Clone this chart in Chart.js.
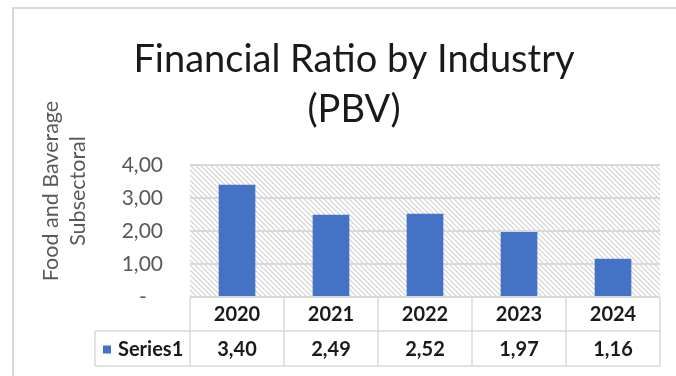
<!DOCTYPE html>
<html>
    <head>
        <meta charset="utf-8">
        <title>Financial Ratio by Industry (PBV)</title>
        <script src="https://cdn.jsdelivr.net/npm/chart.js@4.4.1/dist/chart.umd.min.js"></script>
        <style>
            body { margin: 0; background: #fff; }
            #frame { position: absolute; left: 12px; top: 7px; width: 700px; height: 400px;
                     border-left: 2px solid #d9d9d9; border-top: 2px solid #d9d9d9; }
            #wrap { position: absolute; left: 0; top: 0; width: 676px; height: 376px; }
        </style>
    </head>
    <body>
        <div id="frame"></div>
        <div id="wrap"><canvas id="chart" width="676" height="376"></canvas></div>
        <script>
            // chart data
            const years = ['2020', '2021', '2022', '2023', '2024'];
            const pbv = [3.40, 2.49, 2.52, 1.97, 1.16];
            const seriesName = 'Series1';
            const yTitle = ['Food and Baverage', 'Subsectoral'];
            const chartTitle = ['Financial Ratio by Industry', '(PBV)'];

            const FONT = 'Lato';
            const BLUE = '#4472C4';
            const GRID = '#d9d9d9';

            // comma decimal like the excel sheet
            function fmt(v) {
                return v.toFixed(2).replace('.', ',');
            }

            // diagonal hatch for the plot area
            function hatch() {
                const c = document.createElement('canvas');
                c.width = 5; c.height = 5;
                const g = c.getContext('2d');
                g.strokeStyle = '#d2d2d2';
                g.lineWidth = 1.2;
                g.beginPath();
                g.moveTo(-1, -1); g.lineTo(6, 6);
                g.moveTo(-1, 4); g.lineTo(1, 6);
                g.moveTo(4, -1); g.lineTo(6, 1);
                g.stroke();
                return g.createPattern(c, 'repeat');
            }

            const plotBg = {
                id: 'plotBg',
                beforeDraw(chart) {
                    const a = chart.chartArea;
                    const ctx = chart.ctx;
                    ctx.save();
                    ctx.fillStyle = hatch();
                    ctx.fillRect(a.left, a.top, a.right - a.left, a.bottom - a.top);
                    ctx.restore();
                }
            };

            // y axis title, two lines, rotated
            const sideTitle = {
                id: 'sideTitle',
                afterDraw(chart) {
                    const ctx = chart.ctx;
                    ctx.save();
                    ctx.translate(51, 191);
                    ctx.rotate(-Math.PI / 2);
                    ctx.fillStyle = '#595959';
                    ctx.font = '21.5px ' + FONT;
                    ctx.textAlign = 'center';
                    ctx.textBaseline = 'middle';
                    yTitle.forEach((t, i) => ctx.fillText(t, 0, i * 27));
                    ctx.restore();
                }
            };

            // data table under the bars
            const dataTable = {
                id: 'dataTable',
                afterDraw(chart) {
                    const ctx = chart.ctx;
                    const xs = chart.scales.x;
                    const a = chart.chartArea;
                    const colW = (a.right - a.left) / years.length;
                    const r0 = a.bottom, r1 = r0 + 34, r2 = r1 + 35;
                    const legL = 95;
                    ctx.save();
                    ctx.strokeStyle = GRID;
                    ctx.lineWidth = 1.5;
                    ctx.beginPath();
                    ctx.moveTo(a.left, r0); ctx.lineTo(a.right, r0);
                    ctx.moveTo(legL, r1); ctx.lineTo(a.right, r1);
                    ctx.moveTo(legL, r2); ctx.lineTo(a.right, r2);
                    ctx.moveTo(legL, r1); ctx.lineTo(legL, r2);
                    for (let i = 0; i <= years.length; i++) {
                        const x = a.left + i * colW;
                        ctx.moveTo(x, r0); ctx.lineTo(x, r2);
                    }
                    ctx.stroke();

                    ctx.fillStyle = '#1a1a1a';
                    ctx.font = 'bold 20px ' + FONT;
                    ctx.textAlign = 'center';
                    ctx.textBaseline = 'middle';
                    years.forEach((y, i) => {
                        const cx = xs.getPixelForValue(i);
                        ctx.fillText(y, cx, (r0 + r1) / 2 + 1);
                        ctx.fillText(fmt(pbv[i]), cx, (r1 + r2) / 2 + 1);
                    });

                    ctx.fillStyle = BLUE;
                    ctx.fillRect(103, (r1 + r2) / 2 - 3, 8, 8);
                    ctx.fillStyle = '#1a1a1a';
                    ctx.textAlign = 'left';
                    ctx.fillText(seriesName, 118, (r1 + r2) / 2 + 1);
                    ctx.restore();
                }
            };

            const ctx = document.getElementById('chart').getContext('2d');
            new Chart(ctx, {
                type: 'bar',
                data: {
                    labels: years,
                    datasets: [{
                        label: seriesName,
                        data: pbv,
                        backgroundColor: BLUE,
                        barPercentage: 0.39,
                        categoryPercentage: 1
                    }]
                },
                options: {
                    responsive: false,
                    animation: false,
                    layout: { padding: { left: 48, right: 16, top: 0, bottom: 79 } },
                    plugins: {
                        legend: { display: false },
                        tooltip: { enabled: false },
                        title: {
                            display: true,
                            text: chartTitle,
                            color: '#1a1a1a',
                            font: { family: FONT, size: 38, weight: 'normal', lineHeight: '50px' },
                            padding: { top: 35, bottom: 30 }
                        }
                    },
                    scales: {
                        x: {
                            ticks: { display: false },
                            grid: { display: false },
                            border: { display: false },
                            afterFit(s) { s.height = 0; }
                        },
                        y: {
                            min: 0,
                            max: 4,
                            ticks: {
                                stepSize: 1,
                                padding: 27,
                                color: '#595959',
                                font: { family: FONT, size: 21 },
                                callback: v => v === 0 ? '-   ' : fmt(v)
                            },
                            grid: { color: GRID, lineWidth: 2, drawTicks: false },
                            border: { display: false },
                            afterFit(s) { s.width = 142; }
                        }
                    }
                },
                plugins: [plotBg, sideTitle, dataTable]
            });
        </script>
    </body>
</html>
